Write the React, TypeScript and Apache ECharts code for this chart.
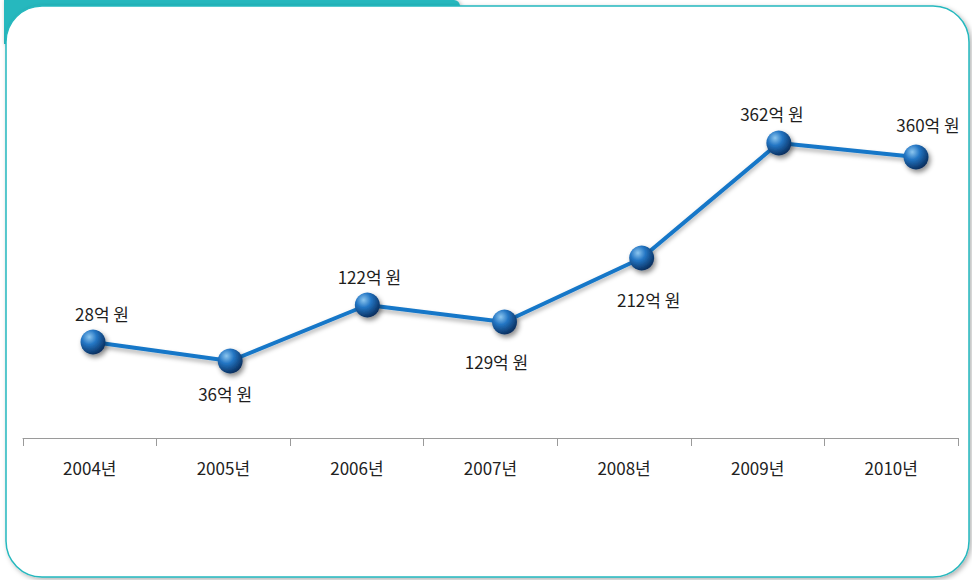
import React, { useEffect, useRef } from "react";
import * as echarts from "echarts";

// Categories (x axis)
const years = ["2004년", "2005년", "2006년", "2007년", "2008년", "2009년", "2010년"];
// Values shown in labels (억 원)
const amounts = [28, 36, 122, 129, 212, 362, 360];
// Height of each point as drawn in the picture (hidden axis units)
const drawnLevel = [96, 77, 133, 116, 180, 295, 281];
// Label placement for each point
const labelSide = ["top", "bottom", "top", "bottom", "bottom", "top", "top"];
const labelDistance = [8, 11, 8, 18, 20, 9, 12];
const labelShiftX = [9, -5, 2, -8, 7, -7, 12];

const FONT = "'Noto Sans CJK KR', 'Noto Sans', sans-serif";
const TEAL = "#25b8be";

export default function App() {
  const ref = useRef<HTMLDivElement>(null);
  useEffect(() => {
    if (!ref.current) return;
    const chart = echarts.init(ref.current, null, { renderer: "svg" });
    const sphere = new echarts.graphic.RadialGradient(0.35, 0.3, 0.75, [
      { offset: 0, color: "#8cc6ef" },
      { offset: 0.4, color: "#2476c4" },
      { offset: 1, color: "#072a58" },
    ]);
    chart.setOption({
      animation: false,
      backgroundColor: "#ffffff",
      graphic: [
        {
          type: "rect",
          z: -10,
          shape: { x: 4, y: 0, width: 456, height: 44, r: [0, 6, 0, 0] },
          style: { fill: TEAL, shadowBlur: 4, shadowColor: "rgba(0,0,0,0.25)", shadowOffsetX: 1 },
        },
        {
          type: "rect",
          z: -9,
          shape: { x: 6, y: 6, width: 963, height: 571, r: 36 },
          style: {
            fill: "#ffffff",
            stroke: TEAL,
            lineWidth: 1.5,
            shadowBlur: 5,
            shadowColor: "rgba(0,0,0,0.3)",
            shadowOffsetX: 2,
            shadowOffsetY: 2,
          },
        },
      ],
      grid: [
        { left: 23, right: 14, top: 38, bottom: 142 },
        { left: 93, right: 56, top: 38, bottom: 142 },
      ],
      xAxis: [
        {
          type: "category",
          gridIndex: 0,
          data: years,
          boundaryGap: true,
          axisLine: { lineStyle: { color: "#9a9a9a", width: 1 } },
          axisTick: { show: true, length: 8, lineStyle: { color: "#9a9a9a" } },
          axisLabel: { color: "#222", fontSize: 17, fontFamily: FONT, margin: 21 },
        },
        {
          type: "category",
          gridIndex: 1,
          data: years,
          boundaryGap: false,
          show: false,
        },
      ],
      yAxis: [
        { type: "value", gridIndex: 0, min: 0, max: 400, show: false },
        { type: "value", gridIndex: 1, min: 0, max: 400, show: false },
      ],
      series: [
        {
          type: "line",
          xAxisIndex: 1,
          yAxisIndex: 1,
          z: 5,
          symbol: "circle",
          symbolSize: 25,
          lineStyle: {
            color: "#1577c8",
            width: 4,
            shadowColor: "rgba(0,0,0,0.3)",
            shadowBlur: 4,
            shadowOffsetY: 3,
          },
          itemStyle: {
            color: sphere,
            shadowColor: "rgba(0,0,0,0.45)",
            shadowBlur: 5,
            shadowOffsetX: 2,
            shadowOffsetY: 3,
          },
          data: drawnLevel.map((v, i) => ({
            value: v,
            label: {
              show: true,
              position: labelSide[i],
              distance: labelDistance[i],
              offset: [labelShiftX[i], 0],
              formatter: `${amounts[i]}억 원`,
              color: "#1e1e1e",
              fontSize: 17,
              fontFamily: FONT,
            },
          })),
        },
      ],
    });
    return () => chart.dispose();
  }, []);
  return (
    <div
      ref={ref}
      style={{ position: "fixed", left: 0, top: 0, width: 972, height: 580 }}
    />
  );
}
